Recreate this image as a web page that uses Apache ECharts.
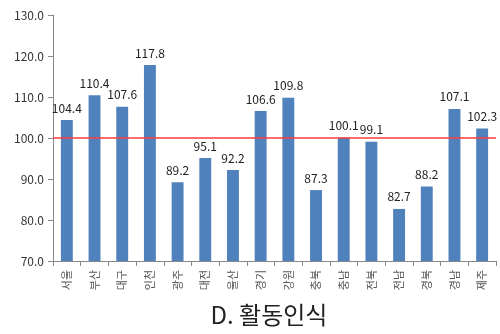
<!DOCTYPE html>
<html>
<head>
<meta charset="utf-8">
<script src="https://cdn.jsdelivr.net/npm/echarts@6/dist/echarts.min.js"></script>
<style>
html,body{margin:0;padding:0;background:#fff;}
#chart{width:500px;height:334px;}
</style>
</head>
<body>
<div id="chart"></div>
<script>
// Regions and their activity-awareness index
var regions = ['서울','부산','대구','인천','광주','대전','울산','경기','강원','충북','충남','전북','전남','경북','경남','제주'];
var indexValues = [104.4,110.4,107.6,117.8,89.2,95.1,92.2,106.6,109.8,87.3,100.1,99.1,82.7,88.2,107.1,102.3];
var baseline = 100;
var yMin = 70, yMax = 130, yStep = 10;
var chartTitle = 'D. 활동인식';

var chart = echarts.init(document.getElementById('chart'));
chart.setOption({
  animation: false,
  textStyle: { fontFamily: '"Noto Sans CJK KR", "Noto Sans", sans-serif' },
  title: {
    text: chartTitle,
    left: 264, top: 298,
    textAlign: 'center',
    textStyle: { fontSize: 24, fontWeight: 'normal', color: '#222', fontFamily: '"Noto Sans CJK KR", sans-serif' }
  },
  grid: { left: 53, right: 4, top: 15, bottom: 73 },
  xAxis: {
    type: 'category',
    data: regions,
    axisLine: { lineStyle: { color: '#888', width: 1 } },
    axisTick: { show: true, alignWithLabel: false, length: 5, lineStyle: { color: '#888' } },
    axisLabel: { rotate: 90, fontSize: 11, color: '#555', margin: 9, interval: 0 }
  },
  yAxis: {
    type: 'value',
    min: yMin, max: yMax, interval: yStep,
    splitLine: { show: false },
    axisLine: { show: true, lineStyle: { color: '#888', width: 1 } },
    axisTick: { show: true, length: 5, lineStyle: { color: '#888' } },
    axisLabel: { fontSize: 12, color: '#333', margin: 9, formatter: function (v) { return v.toFixed(1); } }
  },
  series: [{
    type: 'bar',
    data: indexValues,
    barWidth: '43%',
    itemStyle: { color: '#4f81bd' },
    label: {
      show: true, position: 'top', distance: 6,
      fontSize: 12, color: '#222',
      formatter: function (p) { return p.value.toFixed(1); }
    },
    markLine: {
      silent: true,
      symbol: 'none',
      label: { show: false },
      lineStyle: { color: '#ff3b3b', width: 1.5, type: 'solid' },
      data: [{ yAxis: baseline }]
    }
  }]
});
</script>
</body>
</html>
